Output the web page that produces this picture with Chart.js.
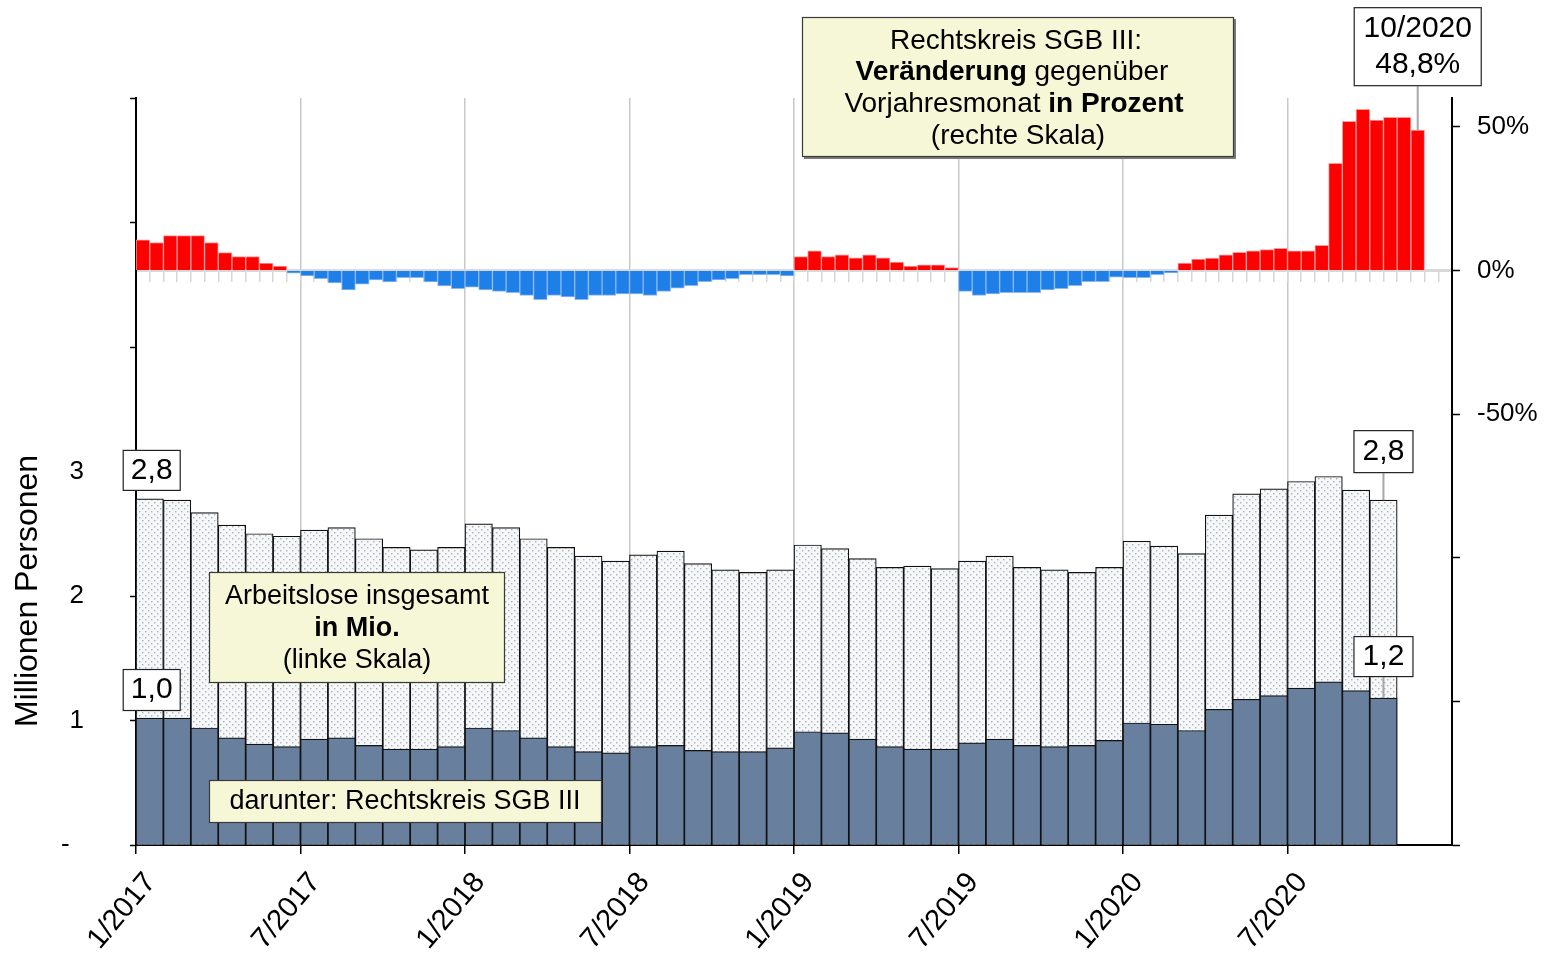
<!DOCTYPE html>
<html>
<head>
<meta charset="utf-8">
<script src="https://cdn.jsdelivr.net/npm/chart.js@4.4.1/dist/chart.umd.min.js"></script>
<style>
  html, body { margin: 0; padding: 0; background: #fff; }
  #wrap { width: 1546px; height: 960px; }
</style>
</head>
<body>
<div id="wrap"><canvas id="myChart" width="1546" height="960"></canvas></div>
<script>
// months on the lower axis (bars for Arbeitslose)
const months = [
  "1/2017", "2/2017", "3/2017", "4/2017", "5/2017", "6/2017", "7/2017", "8/2017", "9/2017", "10/2017", "11/2017", "12/2017",
  "1/2018", "2/2018", "3/2018", "4/2018", "5/2018", "6/2018", "7/2018", "8/2018", "9/2018", "10/2018", "11/2018", "12/2018",
  "1/2019", "2/2019", "3/2019", "4/2019", "5/2019", "6/2019", "7/2019", "8/2019", "9/2019", "10/2019", "11/2019", "12/2019",
  "1/2020", "2/2020", "3/2020", "4/2020", "5/2020", "6/2020", "7/2020", "8/2020", "9/2020", "10/2020", "11/2020", "12/2020"
];
// the change bars sit on a finer axis, two slots per month
const halfMonths = months.flatMap(m => [m + " a", m + " b"]);

// Arbeitslose insgesamt, Mio.
const total = [
  2.78, 2.77, 2.67, 2.57, 2.50, 2.48, 2.53, 2.55, 2.46, 2.39, 2.37, 2.39,
  2.58, 2.55, 2.46, 2.39, 2.32, 2.28, 2.33, 2.36, 2.26, 2.21, 2.19, 2.21,
  2.41, 2.38, 2.30, 2.23, 2.24, 2.22, 2.28, 2.32, 2.23, 2.21, 2.19, 2.23,
  2.44, 2.40, 2.34, 2.65, 2.82, 2.86, 2.92, 2.96, 2.85, 2.77
];
// darunter Rechtskreis SGB III, Mio.
const sgb3 = [
  1.02, 1.02, 0.94, 0.86, 0.81, 0.79, 0.85, 0.86, 0.80, 0.77, 0.77, 0.79,
  0.94, 0.92, 0.86, 0.79, 0.75, 0.74, 0.79, 0.80, 0.76, 0.75, 0.75, 0.78,
  0.91, 0.90, 0.85, 0.79, 0.77, 0.77, 0.82, 0.85, 0.80, 0.79, 0.80, 0.84,
  0.98, 0.97, 0.92, 1.09, 1.17, 1.20, 1.26, 1.31, 1.24, 1.18
];
// SGB III Veraenderung gegenueber Vorjahresmonat, %
const sgb3Change = [
  10.6, 9.7, 12.1, 12.1, 12.1, 9.7, 6.2, 4.8, 4.8, 2.5, 1.5, -1.0,
  -1.9, -2.9, -4.4, -6.8, -4.8, -3.3, -4.0, -2.5, -2.5, -4.0, -5.4, -6.4,
  -5.8, -6.8, -7.3, -7.8, -8.7, -10.2, -8.7, -9.2, -10.2, -8.7, -8.7, -8.2,
  -8.2, -8.7, -7.3, -6.2, -5.3, -3.9, -3.3, -2.9, -1.5, -1.5, -1.5, -1.9,
  4.8, 6.8, 4.8, 5.4, 4.4, 5.4, 4.4, 2.9, 1.5, 1.9, 1.9, 1.0,
  -7.3, -8.7, -8.2, -7.8, -7.8, -7.8, -6.8, -6.4, -5.3, -3.9, -3.9, -2.4,
  -2.5, -2.5, -1.5, -0.9, 2.5, 3.9, 4.3, 5.4, 6.3, 6.8, 7.2, 7.7,
  6.8, 6.8, 8.7, 37.3, 51.9, 56.1, 52.3, 53.3, 53.3, 48.8
];

const leftTicks = [0, 1, 2, 3, 4, 5, 6];
const leftTickLabels = ["-  ", "1", "2", "3", "", "", ""];
const rightTicks = [-200, -150, -100, -50, 0, 50];
const rightTickLabels = ["", "", "", "-50%", "0%", "50%"];

const FONT = '"Liberation Sans", Arial, sans-serif';
Chart.defaults.font.family = FONT;
Chart.defaults.color = "#000";

const canvas = document.getElementById("myChart");
const ctx0 = canvas.getContext("2d");

// light dotted fill like the excel pattern
const pc = document.createElement("canvas");
pc.width = 6; pc.height = 6;
const pg = pc.getContext("2d");
pg.fillStyle = "#f5f7f9"; pg.fillRect(0, 0, 6, 6);
pg.fillStyle = "#a9b0b7";
pg.fillRect(1, 1, 1.4, 1.4);
pg.fillRect(4, 4, 1.4, 1.4);
const dots = ctx0.createPattern(pc, "repeat");

function fmt(v) {
  return v.toFixed(1).replace(".", ",");
}

function box(ctx, x, y, w, h, fill, stroke, shadow) {
  if (shadow) {
    ctx.fillStyle = "#7a7a7a";
    ctx.fillRect(x + 2, y + 2, w, h);
  }
  ctx.fillStyle = fill;
  ctx.fillRect(x, y, w, h);
  ctx.strokeStyle = stroke;
  ctx.lineWidth = 1.2;
  ctx.strokeRect(x + 0.5, y + 0.5, w - 1, h - 1);
}

// one centered line made of normal / bold pieces
function runs(ctx, cx, cy, parts, size) {
  let wsum = 0;
  parts.forEach(p => {
    ctx.font = (p[1] ? "bold " : "") + size + "px " + FONT;
    p.w = ctx.measureText(p[0]).width;
    wsum += p.w;
  });
  let xx = cx - wsum / 2;
  ctx.textBaseline = "middle";
  ctx.textAlign = "left";
  ctx.fillStyle = "#000";
  parts.forEach(p => {
    ctx.font = (p[1] ? "bold " : "") + size + "px " + FONT;
    ctx.fillText(p[0], xx, cy);
    xx += p.w;
  });
}

function leader(ctx, x, yA, yB) {
  ctx.strokeStyle = "#a6a6a6";
  ctx.lineWidth = 2;
  ctx.beginPath();
  ctx.moveTo(x, yA);
  ctx.lineTo(x, yB);
  ctx.stroke();
}

const notes = {
  id: "notes",
  afterDraw(chart) {
    const ctx = chart.ctx;
    const sx = chart.scales.x, sy = chart.scales.y, sx2 = chart.scales.x2, sy1 = chart.scales.y1;
    ctx.save();

    // axis title
    ctx.save();
    ctx.translate(28, 591);
    ctx.rotate(-Math.PI / 2);
    ctx.font = "32px " + FONT;
    ctx.fillStyle = "#000";
    ctx.textAlign = "center";
    ctx.textBaseline = "middle";
    ctx.fillText("Millionen Personen", 0, 0);
    ctx.restore();

    // text boxes
    const yellow = "#f5f7d6";
    box(ctx, 802, 17, 432, 140, yellow, "#3a3a3a", true);
    runs(ctx, 1016, 41, [["Rechtskreis SGB III:", false]], 28);
    runs(ctx, 1012, 72, [["Veränderung", true], [" gegenüber", false]], 28);
    runs(ctx, 1014, 104, [["Vorjahresmonat ", false], ["in Prozent", true]], 28);
    runs(ctx, 1018, 136, [["(rechte Skala)", false]], 28);

    box(ctx, 209, 572, 296, 111, yellow, "#3a3a3a", false);
    runs(ctx, 357, 597, [["Arbeitslose insgesamt", false]], 27);
    runs(ctx, 357, 629, [["in Mio.", true]], 27);
    runs(ctx, 357, 661, [["(linke Skala)", false]], 27);

    box(ctx, 209, 780, 393, 43, yellow, "#3a3a3a", false);
    runs(ctx, 405, 802, [["darunter: Rechtskreis SGB III", false]], 27);

    // value callouts
    const first = 0, last = total.length - 1;
    let cx = sx.getPixelForValue(first) + 2;
    let top = sy.getPixelForValue(total[first]);
    box(ctx, cx - 29, top - 49, 58, 41, "#fff", "#222", false);
    runs(ctx, cx, top - 28, [[fmt(total[first]), false]], 30);
    top = sy.getPixelForValue(sgb3[first]);
    box(ctx, cx - 29, top - 49, 58, 42, "#fff", "#222", false);
    runs(ctx, cx, top - 28, [[fmt(sgb3[first]), false]], 30);

    cx = sx.getPixelForValue(last);
    top = sy.getPixelForValue(total[last]);
    leader(ctx, cx, top - 27, top);
    box(ctx, cx - 30, top - 70, 60, 43, "#fff", "#222", false);
    runs(ctx, cx, top - 48, [[fmt(total[last]), false]], 30);
    top = sy.getPixelForValue(sgb3[last]);
    leader(ctx, cx, top - 21, top);
    box(ctx, cx - 30, top - 62, 60, 41, "#fff", "#222", false);
    runs(ctx, cx, top - 41, [[fmt(sgb3[last]), false]], 30);

    const li = sgb3Change.length - 1;
    cx = sx2.getPixelForValue(li);
    top = sy1.getPixelForValue(sgb3Change[li]);
    leader(ctx, cx, top - 44, top);
    box(ctx, cx - 64, top - 123, 128, 79, "#fff", "#222", false);
    runs(ctx, cx, top - 101, [[months[last], false]], 30);
    runs(ctx, cx, top - 65, [[fmt(sgb3Change[li]) + "%", false]], 30);

    ctx.restore();
  }
};

new Chart(canvas, {
  type: "bar",
  data: {
    labels: months,
    datasets: [
      {
        label: "darunter: Rechtskreis SGB III",
        data: sgb3,
        xAxisID: "x", yAxisID: "y",
        backgroundColor: "#687f9d",
        borderColor: "#111",
        borderWidth: 1.2,
        grouped: false,
        barPercentage: 1, categoryPercentage: 1,
        order: 1
      },
      {
        label: "Arbeitslose insgesamt",
        data: total,
        xAxisID: "x", yAxisID: "y",
        backgroundColor: dots,
        borderColor: "#111",
        borderWidth: 1.2,
        grouped: false,
        barPercentage: 1, categoryPercentage: 1,
        order: 2
      },
      {
        label: "Veränderung gegenüber Vorjahresmonat",
        data: sgb3Change,
        xAxisID: "x2", yAxisID: "y1",
        backgroundColor: c => c.raw >= 0 ? "#ff0000" : "#1f7fe8",
        borderColor: c => c.raw >= 0 ? "#ff9c9c" : "#8cb9f0",
        borderWidth: 1,
        grouped: false,
        barPercentage: 1, categoryPercentage: 1,
        order: 3
      }
    ]
  },
  options: {
    responsive: false,
    animation: false,
    devicePixelRatio: 1,
    layout: { padding: { top: 98, left: 0, right: 0, bottom: 0 } },
    plugins: { legend: { display: false }, tooltip: { enabled: false } },
    scales: {
      x: {
        type: "category",
        position: "bottom",
        offset: true,
        afterFit: s => { s.height = 115; },
        grid: {
          offset: true,
          color: c => c.index % 6 === 0 ? "#c8c8c8" : "transparent",
          tickColor: c => c.index % 6 === 0 ? "#000" : "transparent",
          lineWidth: 1.5,
          tickWidth: 1.5,
          tickLength: 9
        },
        border: { color: "#000", width: 2 },
        ticks: {
          autoSkip: false,
          maxRotation: 50, minRotation: 50,
          font: { size: 29 },
          padding: 12,
          labelOffset: 1,
          callback: (v, i) => i % 6 === 0 ? months[i] : ""
        }
      },
      x2: {
        type: "category",
        labels: halfMonths,
        position: { y1: 0 },
        offset: true,
        afterFit: s => { s.height = 0; },
        grid: { offset: true, drawOnChartArea: false, color: "#d6d6d6", tickLength: 10, lineWidth: 1.5 },
        border: { color: "#d9d9d9", width: 3 },
        ticks: { display: false }
      },
      y: {
        position: "left",
        min: 0, max: 6,
        afterFit: s => { s.width = 136; },
        afterBuildTicks: s => { s.ticks = leftTicks.map(v => ({ value: v })); },
        grid: { drawOnChartArea: false, tickColor: "#000", tickLength: 6, tickWidth: 1.5 },
        border: { color: "#000", width: 2 },
        ticks: {
          font: { size: 26 },
          padding: 46,
          callback: v => leftTickLabels[leftTicks.indexOf(v)]
        }
      },
      y1: {
        position: "right",
        min: -200, max: 60,
        afterFit: s => { s.width = 94; },
        afterBuildTicks: s => { s.ticks = rightTicks.map(v => ({ value: v })); },
        grid: { drawOnChartArea: false, tickColor: "#000", tickLength: 8, tickWidth: 1.5 },
        border: { color: "#000", width: 2 },
        ticks: {
          font: { size: 26 },
          padding: 17,
          callback: v => rightTickLabels[rightTicks.indexOf(v)]
        }
      }
    }
  },
  plugins: [notes]
});
</script>
</body>
</html>
